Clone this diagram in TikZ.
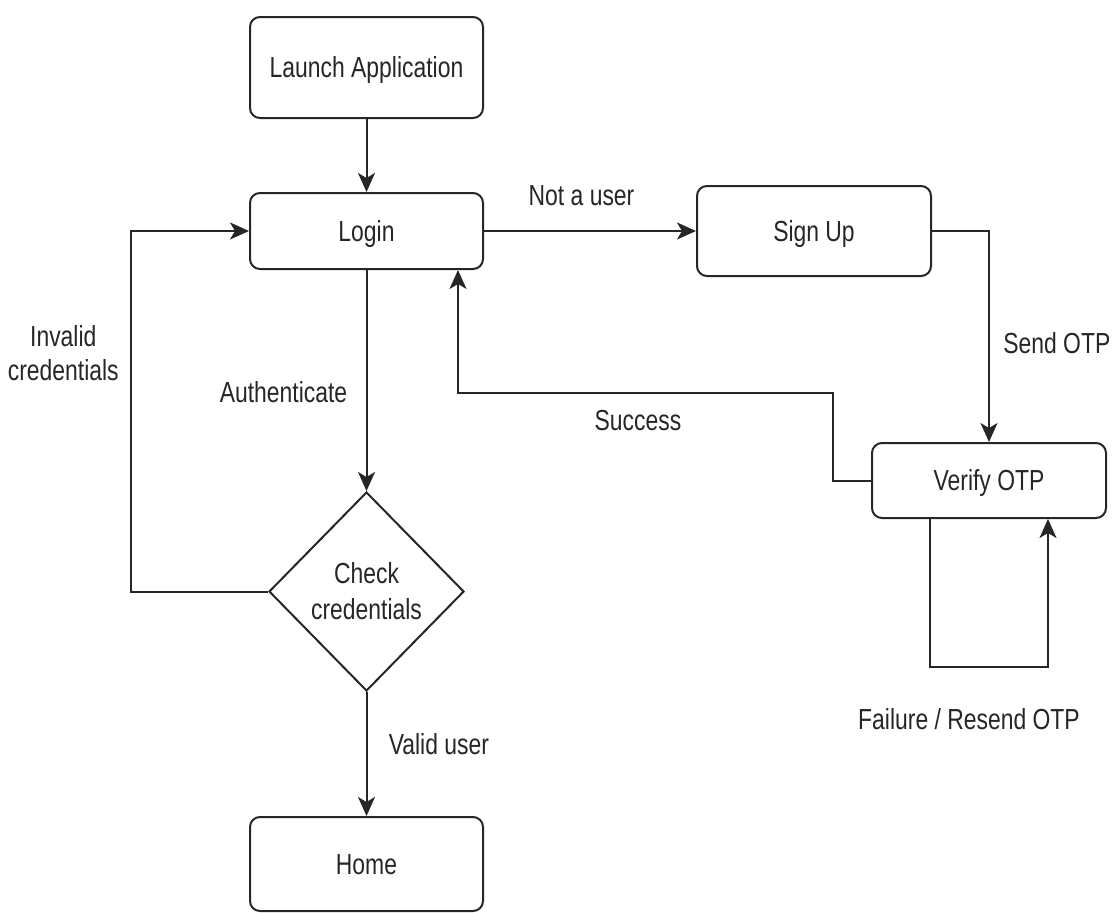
\documentclass[tikz,border=0pt]{standalone}
\usepackage{fontspec}
\setmainfont{Liberation Sans}[FakeStretch=0.79]
\usetikzlibrary{positioning, arrows.meta, shapes.geometric}
\definecolor{ink}{HTML}{262626}

\begin{document}
\begin{tikzpicture}[
        x=1pt, y=-1pt,
        color=ink, line width=2pt,
        font=\fontsize{29}{34}\selectfont,
        box/.style={rectangle, rounded corners=10pt, draw, minimum width=233pt, text height=20.8pt, text depth=0pt, align=center},
        decision/.style={diamond, draw, aspect=1, inner sep=0pt, minimum width=195pt, minimum height=199pt, align=center},
        lbl/.style={align=center},
        >={Stealth[length=19pt, width=17pt, inset=5pt]}
    ]
    \useasboundingbox (0,0) rectangle (1112,913);

    % Login flow
    \node[box, minimum height=101pt] (launch) at (366.5,67.5) {Launch Application};
    \node[box, minimum height=76pt, below=73pt of launch] (login) {Login};
    \node[decision, below=221pt of login] (check) {Check\\[2pt]credentials};
    \node[box, minimum height=94pt, below=124pt of check] (home) {Home};

    % Sign up flow
    \node[box, minimum width=234pt, minimum height=90pt, right=212pt of login] (signup) {Sign Up};
    \node[box, minimum width=234pt, minimum height=75pt] (verify) at (989,480.5) {Verify OTP};
    \coordinate (succ) at (833,393);

    % Edges login flow
    \draw[->] (launch) -- (login);
    \draw[->] (login) -- node[lbl, pos=0.6, anchor=base east, xshift=-15pt] {Authenticate} (check);
    \draw[->] (check) -- node[lbl, pos=0.5, anchor=base west, xshift=18pt] {Valid user} (home);
    \draw[->] (check.west) -- ++(-137,0) |- node[lbl, pos=0.33, anchor=east, xshift=-8pt] {Invalid\\credentials} (login.west);

    % Edges sign up flow
    \draw[->] (login) -- node[lbl, pos=0.46, anchor=base, yshift=26pt] {Not a user} (signup);
    \draw[->] (signup) -| node[lbl, pos=0.79, anchor=base west, xshift=10pt] {Send OTP} (verify);
    \draw[->] (verify.west) -| (succ) -| node[lbl, pos=0.26, anchor=base, yshift=-37pt] {Success} ([xshift=91.5pt]login.south);
    \draw[->] ([xshift=-59pt]verify.south) -- ++(0,148) -| node[lbl, pos=0.25, anchor=base, xshift=-20pt, yshift=-62pt] {Failure / Resend OTP} ([xshift=59pt]verify.south);

\end{tikzpicture}
\end{document}
